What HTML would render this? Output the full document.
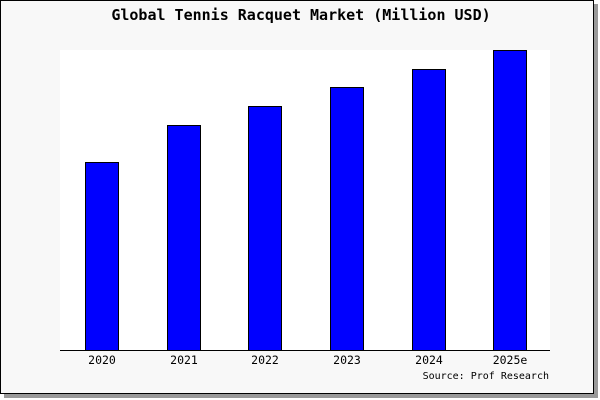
<!DOCTYPE html>
<html><head><style>
html,body{margin:0;padding:0;background:#fff;}
</style></head><body>
<svg width="600" height="400" xmlns="http://www.w3.org/2000/svg" style="display:block">
<rect x="4" y="4" width="594" height="394" fill="#999"/>
<rect x="0.5" y="0.5" width="593" height="393" fill="#f8f8f8" stroke="#000" stroke-width="1"/>
<rect x="60" y="50" width="490" height="300" fill="#fff"/>
<text x="301" y="20" text-anchor="middle" font-family="DejaVu Sans Mono, Liberation Mono, monospace" font-weight="bold" font-size="15">Global Tennis Racquet Market (Million USD)</text>
<g fill="#0000ff" stroke="#000" stroke-width="1">
<rect x="85.5" y="162.5" width="33" height="188"/>
<rect x="167.5" y="125.5" width="33" height="225"/>
<rect x="248.5" y="106.5" width="33" height="244"/>
<rect x="330.5" y="87.5" width="33" height="263"/>
<rect x="412.5" y="69.5" width="33" height="281"/>
<rect x="493.5" y="50.5" width="33" height="300"/>
</g>
<line x1="60" y1="350.5" x2="550" y2="350.5" stroke="#000" stroke-width="1"/>
<g font-family="DejaVu Sans Mono, Liberation Mono, monospace" font-size="11.5" text-anchor="middle">
<text x="102" y="364">2020</text>
<text x="184" y="364">2021</text>
<text x="265" y="364">2022</text>
<text x="347" y="364">2023</text>
<text x="429" y="364">2024</text>
<text x="510" y="364">2025e</text>
<text x="549" y="379" text-anchor="end" font-size="10">Source: Prof Research</text>
</g>
</svg>
</body></html>
